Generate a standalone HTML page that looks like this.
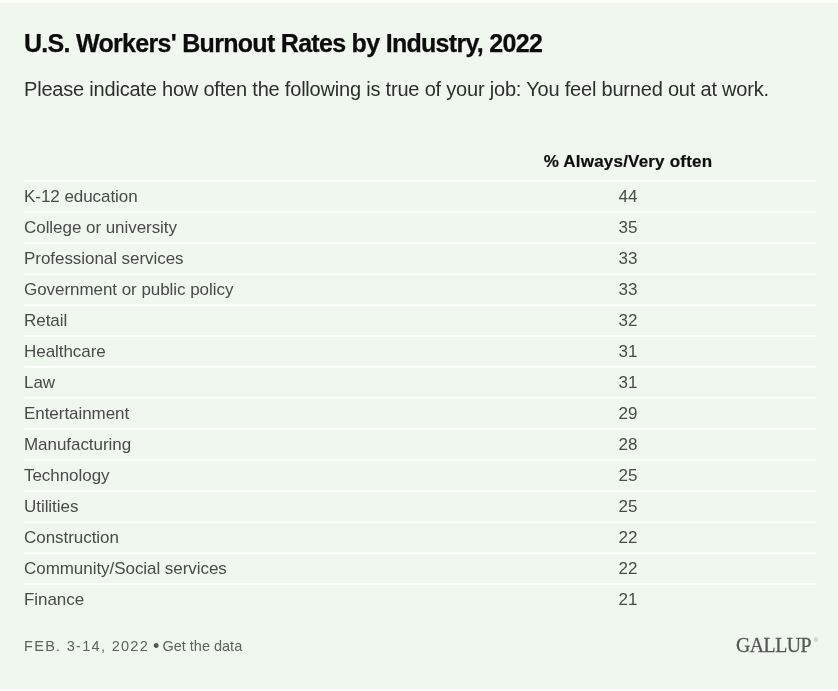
<!DOCTYPE html>
<html>
<head>
<meta charset="utf-8">
<style>
html,body{margin:0;padding:0;}
body{width:838px;height:691px;background:#fdfefb;position:relative;overflow:hidden;font-family:"Liberation Sans",Arial,sans-serif;}
.box{position:absolute;left:0;top:2px;width:838px;height:686px;background:#f0f7ef;border-top:1px solid #f8fbf5;}
.title{position:absolute;left:24px;top:0;margin:0;font-size:25px;font-weight:700;letter-spacing:-0.7px;color:#0c0c0c;-webkit-text-stroke:0.25px #0c0c0c;white-space:nowrap;line-height:30px;}
.sub{position:absolute;left:24px;top:0;margin:0;font-size:20px;font-weight:400;letter-spacing:-0.2px;color:#2e2e2e;white-space:nowrap;line-height:26px;}
table{position:absolute;left:24px;top:0;width:792px;border-collapse:collapse;}
th{font-size:17px;font-weight:700;color:#0e0e0e;-webkit-text-stroke:0.2px #0e0e0e;text-align:center;padding:0;letter-spacing:0.2px;vertical-align:top;line-height:20px;}
td{font-size:17px;color:#4a4a4a;letter-spacing:-0.05px;height:29px;padding:0;border-top:2px solid #fcfefb;line-height:29px;}
td.n{text-align:center;width:376px;}
.foot{position:absolute;left:24px;top:0;font-size:14.5px;color:#606060;white-space:nowrap;}
.foot .d{letter-spacing:1.3px;}
.foot .b{line-height:0;font-size:18px;color:#555;margin:0 3px 0 4px;position:relative;top:1px;}
.logo{position:absolute;left:736px;top:0;font-family:"Liberation Serif",serif;font-size:21px;letter-spacing:-0.5px;color:#555;white-space:nowrap;-webkit-text-stroke:0.3px #555;transform:scaleX(0.94);transform-origin:0 0;}
.reg{position:absolute;left:814px;top:637px;font-family:"Liberation Sans",sans-serif;font-size:5px;color:#999;}
.logo sup{font-size:6px;}
</style>
</head>
<body>
<div class="box"></div>
<h1 class="title" style="top:28px">U.S. Workers' Burnout Rates by Industry, 2022</h1>
<p class="sub" style="top:76px">Please indicate how often the following is true of your job: You feel burned out at work.</p>
<table style="top:146px">
<tr><th style="height:28px;padding-top:6px"></th><th style="height:28px;padding-top:6px">% Always/Very often</th></tr>
<tr><td>K-12 education</td><td class="n">44</td></tr>
<tr><td>College or university</td><td class="n">35</td></tr>
<tr><td>Professional services</td><td class="n">33</td></tr>
<tr><td>Government or public policy</td><td class="n">33</td></tr>
<tr><td>Retail</td><td class="n">32</td></tr>
<tr><td>Healthcare</td><td class="n">31</td></tr>
<tr><td>Law</td><td class="n">31</td></tr>
<tr><td>Entertainment</td><td class="n">29</td></tr>
<tr><td>Manufacturing</td><td class="n">28</td></tr>
<tr><td>Technology</td><td class="n">25</td></tr>
<tr><td>Utilities</td><td class="n">25</td></tr>
<tr><td>Construction</td><td class="n">22</td></tr>
<tr><td>Community/Social services</td><td class="n">22</td></tr>
<tr><td>Finance</td><td class="n">21</td></tr>
</table>
<div class="foot" style="top:638px"><span class="d">FEB. 3-14, 2022</span><span class="b">&bull;</span>Get the data</div>
<div class="logo" style="top:633px">GALLUP</div>
<div class="reg">&reg;</div>
</body>
</html>
